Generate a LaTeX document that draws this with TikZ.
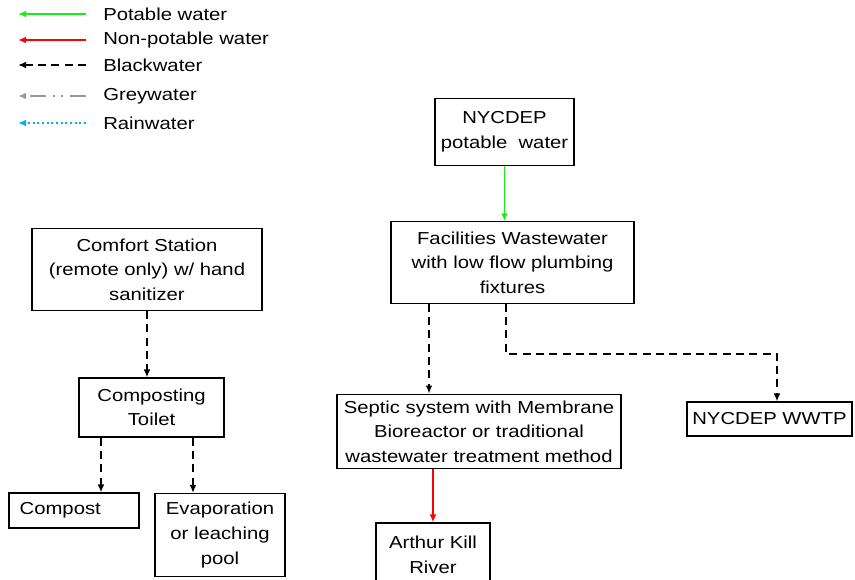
\documentclass[tikz,border=0pt]{standalone}
\usepackage{fontspec}
\setmainfont{Liberation Sans}[FakeStretch=1.17]
\usetikzlibrary{calc,arrows.meta,positioning}
\definecolor{potable}{RGB}{20,240,20}
\definecolor{rain}{RGB}{0,176,240}
\tikzstyle{box}=[draw,line width=0.8pt,align=center,inner sep=0pt,font=\fontsize{13}{18.4}\selectfont]
\tikzstyle{legend}=[anchor=west,inner sep=0pt,font=\fontsize{13}{14}\selectfont]
\tikzstyle{blackedge}=[draw,line width=1.8pt,dash pattern=on 6pt off 4pt,-{Latex[length=6pt,width=5pt]}]
\tikzstyle{greenedge}=[draw,line width=1.2pt,potable,-{Latex[length=6pt,width=5pt]}]
\tikzstyle{rededge}=[draw,line width=1.2pt,red,-{Latex[length=6pt,width=5pt]}]
\tikzstyle{greyedge}=[draw,line width=1.6pt,black!40,dash pattern=on 12pt off 5pt on 1.5pt off 5pt on 1.5pt off 5pt,-{Latex[length=6pt,width=5pt]}]
\tikzstyle{rainedge}=[draw,line width=1.2pt,rain,dash pattern=on 1.5pt off 2pt,-{Latex[length=6pt,width=5pt]}]

\begin{document}
\begin{tikzpicture}[x=0.75pt,y=-0.75pt]
\useasboundingbox (0,0) rectangle (855,579);

% legend
\node[legend] (l1) at (103,14) {Potable water};
\node[legend] (l2) at (103,40) {Non-potable water};
\node[legend] (l3) at (103,65) {Blackwater};
\node[legend] (l4) at (103,96) {Greywater};
\node[legend] (l5) at (103,123) {Rainwater};
\path[greenedge] ($(l1.west)+(-17,0)$) -- ($(l1.west)+(-85,0)$);
\path[rededge] ($(l2.west)+(-17,0)$) -- ($(l2.west)+(-85,0)$);
\path[blackedge,line width=1.4pt] ($(l3.west)+(-17,0)$) -- ($(l3.west)+(-85,0)$);
\path[greyedge] ($(l4.west)+(-17,0)$) -- ($(l4.west)+(-85,0)$);
\path[rainedge] ($(l5.west)+(-17,0)$) -- ($(l5.west)+(-85,0)$);

% boxes
\node[box,minimum width=104.25pt,minimum height=50.25pt] (1) at (504.5,132) {NYCDEP\\potable\ \ water};
\node[box,minimum width=182.25pt,minimum height=61pt] (2) at (512.5,262.5) {Facilities Wastewater\\with low flow plumbing\\fixtures};
\node[box,minimum width=172.5pt,minimum height=61.5pt] (3) at (147,269.5) {Comfort Station\\(remote only) w/ hand\\sanitizer};
\node[box,minimum width=108.75pt,minimum height=44.25pt] (4) at (151.5,407.5) {Composting\\Toilet};
\node[box,align=left,inner xsep=8pt,text width=81.5pt,minimum height=26.25pt] (5) at (74,510.5) {Compost};
\node[box,minimum width=97.5pt,minimum height=62.25pt] (6) at (220,535) {Evaporation\\or leaching\\pool};
\node[box,minimum width=213pt,minimum height=56pt] (7) at (479,431.5) {Septic system with Membrane\\Bioreactor or traditional\\wastewater treatment method};
\node[box,minimum width=123.75pt,minimum height=25.5pt] (8) at (769.5,419) {NYCDEP WWTP};
\node[box,minimum width=85.5pt,minimum height=48pt] (9) at (433,555) {Arthur Kill\\River};

% flows
\path[greenedge] (1.south) -- (1.south |- 2.north);
\path[blackedge] (3.south) -- (3.south |- 4.north);
\path[blackedge] ($(4.south)+(-50.5,0)$) coordinate (c1) -- (c1 |- 5.north);
\path[blackedge] ($(4.south)+(41.5,0)$) coordinate (c2) -- (c2 |- 6.north);
\path[blackedge] ($(2.south)+(-83.5,0)$) coordinate (c3) -- (c3 |- 7.north);
\path[blackedge] ($(2.south)+(-6.5,0)$) -- ++(0,50) -| ($(8.north)+(7.5,0)$);
\path[rededge] (9.north |- 7.south) -- (9.north);
\end{tikzpicture}
\end{document}
